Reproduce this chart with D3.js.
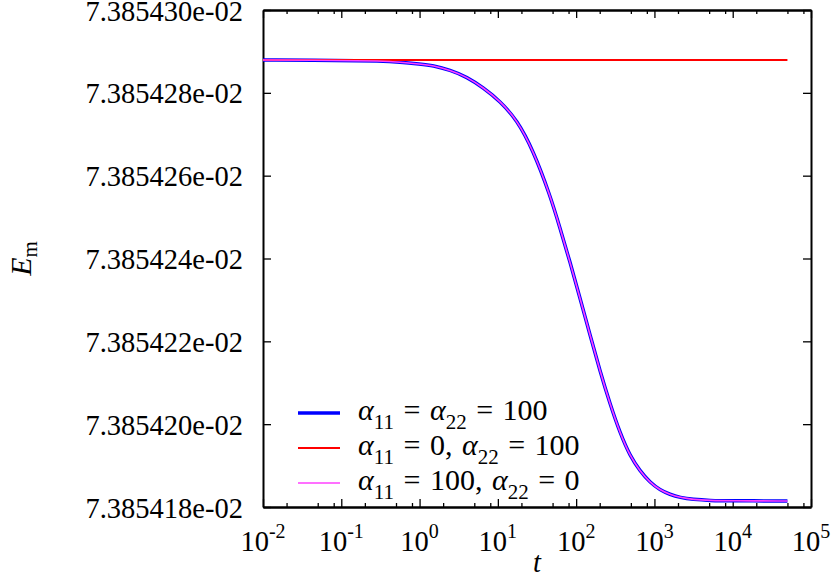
<!DOCTYPE html>
<html>
<head>
<meta charset="utf-8">
<script src="https://cdn.jsdelivr.net/npm/d3@7/dist/d3.min.js"></script>
<style>
html,body{margin:0;padding:0;background:#fff;}
svg{display:block;}
text{font-family:"Liberation Serif","Times New Roman",serif;fill:#000;}
</style>
</head>
<body>
<svg id="chart" width="832" height="577"></svg>
<script>
// ---- data ----
const tValues = [0.01, 0.0992, 0.3122, 0.5623, 1.013, 1.484, 2.447, 4.035, 6.458, 10.65, 17.56, 28.11, 46.36, 62.2, 83.5, 112, 150.3, 201.7, 270.7, 363.3, 487.5, 654.3, 877.9, 1178, 1581, 2122, 3110, 5127, 9234, 50000];
const blueValues = [0.07385428793, 0.07385428783, 0.07385428769, 0.07385428744, 0.07385428696, 0.07385428660, 0.07385428551, 0.07385428382, 0.07385428129, 0.07385427803, 0.07385427344, 0.07385426620, 0.07385425533, 0.07385424736, 0.07385423915, 0.07385423046, 0.07385422153, 0.07385421284, 0.07385420487, 0.07385419787, 0.07385419231, 0.07385418869, 0.07385418592, 0.07385418410, 0.07385418302, 0.07385418229, 0.07385418181, 0.07385418157, 0.07385418150, 0.07385418145];
const magentaValues = [0.07385428793, 0.07385428783, 0.07385428769, 0.07385428744, 0.07385428696, 0.07385428660, 0.07385428551, 0.07385428382, 0.07385428129, 0.07385427803, 0.07385427344, 0.07385426620, 0.07385425533, 0.07385424736, 0.07385423915, 0.07385423046, 0.07385422153, 0.07385421284, 0.07385420487, 0.07385419787, 0.07385419231, 0.07385418869, 0.07385418592, 0.07385418410, 0.07385418302, 0.07385418229, 0.07385418181, 0.07385418157, 0.07385418150, 0.07385418145];
const tRed = [0.01, 1, 100, 10000, 50000];
const redValues = [0.07385428793, 0.07385428793, 0.07385428793, 0.07385428793, 0.07385428793];

const yTickValues = [0.07385418, 0.0738542, 0.07385422, 0.07385424, 0.07385426, 0.07385428, 0.0738543];
const yTickLabels = ["7.385418e-02", "7.385420e-02", "7.385422e-02", "7.385424e-02", "7.385426e-02", "7.385428e-02", "7.385430e-02"];
const xMajorTicks = [1e-2, 1e-1, 1e0, 1e1, 1e2, 1e3, 1e4, 1e5];
const xTickExponents = ["-2", "-1", "0", "1", "2", "3", "4", "5"];
const xMinorMultipliers = [2, 5, 8];

const seriesNames = ["blue", "red", "magenta"];
const legendLabels = [
  [["α", "i"], ["11", "sub"], [" = ", ""], ["α", "i"], ["22", "sub"], [" = 100", ""]],
  [["α", "i"], ["11", "sub"], [" = 0, ", ""], ["α", "i"], ["22", "sub"], [" = 100", ""]],
  [["α", "i"], ["11", "sub"], [" = 100, ", ""], ["α", "i"], ["22", "sub"], [" = 0", ""]]
];

// ---- layout ----
const L = 263, R = 811, T = 10, B = 507;
const svg = d3.select("#chart");
const x = d3.scaleLog().domain([1e-2, 1e5]).range([L, R]);
const y = d3.scaleLinear().domain([0.07385418, 0.0738543]).range([B, T]);

const colors = {blue: "#0000ff", red: "#ff0000", magenta: "#ff40ff"};
const widths = {blue: 3.5, red: 2, magenta: 1.6};

const minorTicks = [];
for (let i = 0; i < xMajorTicks.length - 1; i++) {
  xMinorMultipliers.forEach(m => minorTicks.push(xMajorTicks[i] * m));
}

function styleAxis(g) {
  g.select(".domain").attr("stroke", "#000").attr("stroke-width", 2);
  g.selectAll(".tick line").attr("stroke", "#000").attr("stroke-width", 1.3);
  g.selectAll(".tick text").remove();
}

svg.append("g").attr("transform", `translate(0,${B})`)
  .call(d3.axisBottom(x).tickValues(xMajorTicks).tickSizeInner(-8).tickSizeOuter(0).tickFormat(""))
  .call(styleAxis);
svg.append("g").attr("transform", `translate(0,${B})`)
  .call(d3.axisBottom(x).tickValues(minorTicks).tickSizeInner(-4).tickSizeOuter(0).tickFormat(""))
  .call(styleAxis);
svg.append("g").attr("transform", `translate(0,${T})`)
  .call(d3.axisTop(x).tickValues(xMajorTicks).tickSizeInner(-8).tickSizeOuter(0).tickFormat(""))
  .call(styleAxis);
svg.append("g").attr("transform", `translate(0,${T})`)
  .call(d3.axisTop(x).tickValues(minorTicks).tickSizeInner(-4).tickSizeOuter(0).tickFormat(""))
  .call(styleAxis);
svg.append("g").attr("transform", `translate(${L},0)`)
  .call(d3.axisLeft(y).tickValues(yTickValues).tickSizeInner(-8).tickSizeOuter(0).tickFormat(""))
  .call(styleAxis);
svg.append("g").attr("transform", `translate(${R},0)`)
  .call(d3.axisRight(y).tickValues(yTickValues).tickSizeInner(-8).tickSizeOuter(0).tickFormat(""))
  .call(styleAxis);

// y tick labels
svg.append("g").selectAll("text").data(yTickValues).join("text")
  .attr("x", L - 20).attr("y", d => y(d) + 10.5)
  .attr("text-anchor", "end").attr("font-size", 28.5)
  .text((d, i) => yTickLabels[i]);

// x tick labels
const xl = svg.append("g").selectAll("text").data(xMajorTicks).join("text")
  .attr("x", d => x(d)).attr("y", 551)
  .attr("text-anchor", "middle").attr("font-size", 28.5);
xl.append("tspan").text("10");
xl.append("tspan").attr("dy", -13).attr("font-size", 20).text((d, i) => xTickExponents[i]);

// axis titles
svg.append("text").attr("x", (L + R) / 2).attr("y", 572)
  .attr("text-anchor", "middle").attr("font-size", 28.5).attr("font-style", "italic").text("t");
const yl = svg.append("text").attr("transform", `translate(31,${(T + B) / 2}) rotate(-90)`)
  .attr("text-anchor", "middle").attr("font-size", 30);
yl.append("tspan").attr("font-style", "italic").text("E");
yl.append("tspan").attr("font-size", 21).attr("dy", 6).text("m");

// lines
const line = d3.line().x(d => x(d[0])).y(d => y(d[1])).curve(d3.curveBasis);
const seriesData = {
  blue: tValues.map((t, i) => [t, blueValues[i]]),
  red: tRed.map((t, i) => [t, redValues[i]]),
  magenta: tValues.map((t, i) => [t, magentaValues[i]])
};
seriesNames.forEach(s => {
  svg.append("path").datum(seriesData[s]).attr("d", line)
    .attr("fill", "none").attr("stroke", colors[s]).attr("stroke-width", widths[s])
    .attr("stroke-linejoin", "round");
});

// legend
const legY0 = 413, legDy = 35;
seriesNames.forEach((s, i) => {
  const yy = legY0 + i * legDy;
  svg.append("line").attr("x1", 298).attr("x2", 340).attr("y1", yy).attr("y2", yy)
    .attr("stroke", colors[s]).attr("stroke-width", widths[s]);
  const tx = svg.append("text").attr("x", 358).attr("y", yy + 6.5).attr("font-size", 30)
    .attr("word-spacing", 2);
  let last = "";
  legendLabels[i].forEach(([str, kind]) => {
    const ts = tx.append("tspan").text(str);
    if (kind === "i") ts.attr("font-style", "italic");
    if (kind === "sub") ts.attr("font-size", 21).attr("dy", 9);
    else if (last === "sub") ts.attr("dy", -9);
    last = kind;
  });
});
</script>
</body>
</html>
